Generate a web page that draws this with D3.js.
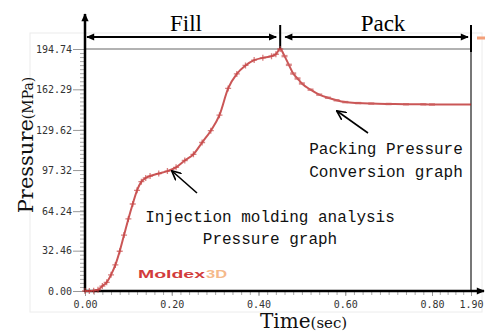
<!DOCTYPE html>
<html>
<head>
<meta charset="utf-8">
<script src="https://cdn.jsdelivr.net/npm/d3@7"></script>
<style>
  body { margin: 0; background: #fff; }
</style>
</head>
<body>
<svg id="chart" width="485" height="332"></svg>
<script>
// fill phase (injection) pressure, sec / MPa
const fillTime = [0, 0.01, 0.02, 0.03, 0.04, 0.05, 0.06, 0.07, 0.08, 0.09, 0.10, 0.11, 0.12, 0.13,
  0.14, 0.15, 0.17, 0.19, 0.21, 0.23, 0.25, 0.27, 0.29, 0.31, 0.33, 0.35, 0.37, 0.39, 0.41, 0.43, 0.44, 0.45]
const fillPressure = [0, 0, 0.3, 1, 4, 7, 13, 21, 32, 45, 58, 70, 81, 88,
  91, 92.5, 94.5, 96.5, 99.5, 105, 110, 119.5, 129, 141.5, 163, 174.7, 181.5, 185.8, 187.6, 189, 190.5, 194.74]

// pack phase pressure
const packTime = [0.46, 0.47, 0.48, 0.49, 0.50, 0.52, 0.54, 0.56, 0.58, 0.60, 0.63, 0.66, 0.70, 0.74, 0.78, 0.80, 1.90]
const packPressure = [189, 182, 175, 171, 167, 162, 158, 155.5, 153.5, 152, 151.2, 150.8, 150.5, 150.3, 150.2, 150.1, 150]

const yTicks = [0, 32.46, 64.24, 97.32, 129.62, 162.29, 194.74]
const xTicks = [0, 0.2, 0.4, 0.6, 0.8, 1.9]
const switchTime = 0.45

const svg = d3.select('#chart')

// broken time axis: 0..0.8 then squeezed up to 1.9
const x = d3.scaleLinear().domain([0, 0.8, 1.9]).range([85, 432, 471])
const y = d3.scaleLinear().domain([0, 194.74]).range([291, 49])

const defs = svg.append('defs')
defs.append('marker').attr('id', 'head')
  .attr('viewBox', '0 0 10 10').attr('refX', 9).attr('refY', 5)
  .attr('markerWidth', 9).attr('markerHeight', 8)
  .attr('markerUnits', 'userSpaceOnUse').attr('orient', 'auto-start-reverse')
  .append('path').attr('d', 'M0,0.5 L10,5 L0,9.5 z').attr('fill', '#000')
defs.append('marker').attr('id', 'open')
  .attr('viewBox', '0 0 10 10').attr('refX', 9).attr('refY', 5)
  .attr('markerWidth', 10).attr('markerHeight', 10)
  .attr('markerUnits', 'userSpaceOnUse').attr('orient', 'auto')
  .append('path').attr('d', 'M0,0.5 L9.5,5 L0,9.5').attr('fill', 'none')
  .attr('stroke', '#000').attr('stroke-width', 1.6)

// faint frame
svg.append('rect').attr('x', 30).attr('y', 33).attr('width', 452).attr('height', 279)
  .attr('fill', 'none').attr('stroke', '#ececec')

// y minor + major ticks
const yMinor = d3.range(0, 61).map(i => i * 194.74 / 60)
svg.append('g').attr('transform', 'translate(85,0)')
  .call(d3.axisLeft(y).tickValues(yMinor).tickSize(5).tickFormat(''))
  .call(g => g.select('.domain').remove())
  .call(g => g.selectAll('line').attr('stroke', '#aaa'))
svg.append('g').attr('transform', 'translate(85,0)')
  .call(d3.axisLeft(y).tickValues(yTicks).tickSize(12).tickPadding(1).tickFormat(d3.format('.2f')))
  .call(g => g.select('.domain').remove())
  .call(g => g.selectAll('line').attr('stroke', '#999'))
  .call(g => g.selectAll('text').attr('font-family', 'DejaVu Sans Mono').attr('font-size', 10).attr('fill', '#333'))

// x minor + major ticks
const xMinor = d3.range(0, 41).map(i => i * 0.02).concat(d3.range(1, 6).map(i => 0.8 + i * 0.22))
svg.append('g').attr('transform', 'translate(0,291)')
  .call(d3.axisBottom(x).tickValues(xMinor).tickSize(4).tickFormat(''))
  .call(g => g.select('.domain').remove())
  .call(g => g.selectAll('line').attr('stroke', '#aaa'))
svg.append('g').attr('transform', 'translate(0,291)')
  .call(d3.axisBottom(x).tickValues(xTicks).tickSize(5).tickPadding(5).tickFormat(d3.format('.2f')))
  .call(g => g.select('.domain').remove())
  .call(g => g.selectAll('line').attr('stroke', '#999'))
  .call(g => g.selectAll('text').attr('font-family', 'DejaVu Sans Mono').attr('font-size', 10).attr('fill', '#333'))

// plot frame lines
svg.append('line').attr('x1', x(0)).attr('x2', x(1.9)).attr('y1', y(194.74)).attr('y2', y(194.74))
  .attr('stroke', '#999').attr('stroke-width', 1.5)
svg.append('line').attr('x1', x(1.9)).attr('x2', x(1.9)).attr('y1', 25).attr('y2', 291)
  .attr('stroke', '#777').attr('stroke-width', 2)
svg.append('line').attr('x1', x(1.9)).attr('x2', x(1.9)).attr('y1', 25).attr('y2', 52)
  .attr('stroke', '#000').attr('stroke-width', 2)
svg.append('line').attr('x1', x(switchTime)).attr('x2', x(switchTime)).attr('y1', 25).attr('y2', 49)
  .attr('stroke', '#000').attr('stroke-width', 2)

// axes with arrows
svg.append('line').attr('x1', 85).attr('x2', 85).attr('y1', 292).attr('y2', 14)
  .attr('stroke', '#000').attr('stroke-width', 2.5).attr('marker-end', 'url(#head)')
svg.append('line').attr('x1', 84).attr('x2', 484).attr('y1', 291).attr('y2', 291)
  .attr('stroke', '#000').attr('stroke-width', 2.5).attr('marker-end', 'url(#head)')

// Fill / Pack spans
svg.append('line').attr('x1', x(0) + 2).attr('x2', x(switchTime) - 4).attr('y1', 37).attr('y2', 37)
  .attr('stroke', '#000').attr('stroke-width', 2)
  .attr('marker-start', 'url(#head)').attr('marker-end', 'url(#head)')
svg.append('line').attr('x1', x(switchTime) + 5).attr('x2', x(1.9) - 3).attr('y1', 37).attr('y2', 37)
  .attr('stroke', '#000').attr('stroke-width', 2)
  .attr('marker-start', 'url(#head)').attr('marker-end', 'url(#head)')
svg.append('text').attr('x', 186).attr('y', 31).attr('text-anchor', 'middle')
  .attr('font-family', 'Liberation Serif').attr('font-size', 23).text('Fill')
svg.append('text').attr('x', 383).attr('y', 31).attr('text-anchor', 'middle')
  .attr('font-family', 'Liberation Serif').attr('font-size', 23).text('Pack')
svg.append('rect').attr('x', 477).attr('y', 36.5).attr('width', 8).attr('height', 3).attr('fill', '#f4a07a')

// pressure curve
const pts = fillTime.map((t, i) => [t, fillPressure[i]])
  .concat(packTime.map((t, i) => [t, packPressure[i]]))
const line = d3.line().x(d => x(d[0])).y(d => y(d[1])).curve(d3.curveMonotoneX)
svg.append('path').datum(pts).attr('d', line)
  .attr('fill', 'none').attr('stroke', '#b81e1e').attr('stroke-opacity', 0.75).attr('stroke-width', 2)

svg.append('g').selectAll('path').data(fillTime.map((t, i) => [t, fillPressure[i]]))
  .enter().append('path')
  .attr('transform', d => `translate(${x(d[0])},${y(d[1])})`)
  .attr('d', 'M-3,0H3M0,-3V3')
  .attr('stroke', '#c84848').attr('stroke-opacity', 0.7).attr('stroke-width', 1.3)
svg.append('g').selectAll('path').data(packTime.slice(0, -1).map((t, i) => [t, packPressure[i]]))
  .enter().append('path')
  .attr('transform', d => `translate(${x(d[0])},${y(d[1])})`)
  .attr('d', 'M-3,0H3')
  .attr('stroke', '#cc5c5c').attr('stroke-opacity', 0.7).attr('stroke-width', 2.5)

// Moldex3D mark
svg.append('text').attr('x', 138).attr('y', 278).attr('font-family', 'Liberation Sans')
  .attr('font-weight', 'bold').attr('font-size', 11).attr('fill', '#d23c3c')
  .attr('textLength', 67).attr('lengthAdjust', 'spacingAndGlyphs').text('Moldex')
svg.append('text').attr('x', 206).attr('y', 278).attr('font-family', 'Liberation Sans')
  .attr('font-weight', 'bold').attr('font-size', 11).attr('fill', '#f5b98a')
  .attr('textLength', 21).attr('lengthAdjust', 'spacingAndGlyphs').text('3D')

// annotations
svg.append('line').attr('x1', 197).attr('y1', 193).attr('x2', 172).attr('y2', 171)
  .attr('stroke', '#000').attr('stroke-width', 1.6).attr('marker-end', 'url(#open)')
svg.append('line').attr('x1', 368).attr('y1', 133).attr('x2', 337).attr('y2', 111)
  .attr('stroke', '#000').attr('stroke-width', 1.6).attr('marker-end', 'url(#open)')

const note = (txt, cx, by) => svg.append('text').attr('x', cx).attr('y', by)
  .attr('text-anchor', 'middle').attr('font-family', 'Liberation Mono').attr('font-size', 16)
  .attr('fill', '#111').text(txt)
note('Injection molding analysis', 270, 222)
note('Pressure graph', 270, 244)
note('Packing Pressure', 386, 154)
note('Conversion graph', 386, 177)

// axis titles
const yt = svg.append('text').attr('transform', 'translate(33,145) rotate(-90)')
  .attr('text-anchor', 'middle').attr('font-family', 'DejaVu Serif').attr('fill', '#111')
yt.append('tspan').attr('font-size', 21).text('Pressure')
yt.append('tspan').attr('font-size', 14).text('(MPa)')

const xt = svg.append('text').attr('x', 260).attr('y', 328)
  .attr('font-family', 'DejaVu Serif').attr('fill', '#111')
xt.append('tspan').attr('font-size', 20).text('Time')
xt.append('tspan').attr('font-size', 15).text('(sec)')
</script>
</body>
</html>
